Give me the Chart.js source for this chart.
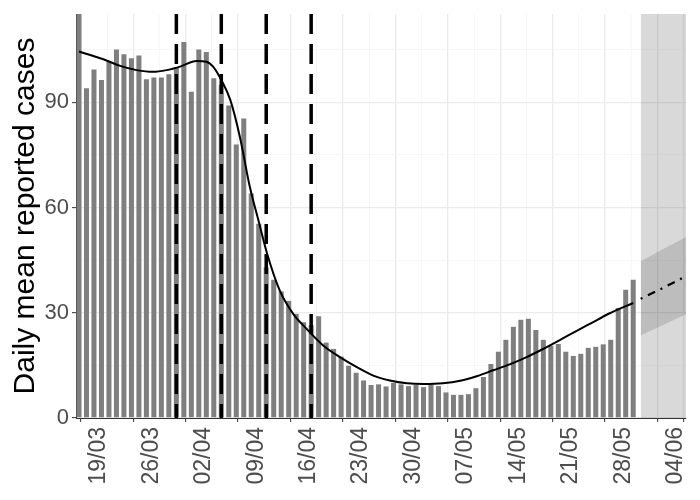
<!DOCTYPE html>
<html>
<head>
<meta charset="utf-8">
<script src="https://cdn.jsdelivr.net/npm/chart.js@4.4.1/dist/chart.umd.min.js"></script>
<style>
  body { margin: 0; background: #fff; }
</style>
</head>
<body>
<canvas id="casesChart" width="700" height="500"></canvas>
<script>
// day numbers are counted from 19/03
const firstBarDay = -2; // 17/03
const dailyCases = [
  120, 94.0, 99.4, 96.4, 101.5, 105.1, 103.7, 102.6, 103.4, 96.6,
  97.1, 97.1, 98.0, 100, 107.2, 93.0, 105.1, 104.4, 96.9, 95,
  89.1, 78.0, 85.4, 64.0, 55.4, 43, 39.4, 36.1, 33.4, 29.7,
  27.3, 26.5, 29.0, 21.5, 19.7, 17.5, 14.9, 12.9, 10.7, 9.4,
  9.6, 9.0, 10.0, 9.6, 9.1, 9.4, 8.8, 9.5, 9.1, 7.3,
  6.6, 6.6, 6.8, 8.5, 11.7, 15.4, 18.9, 22.3, 26.0, 28.0,
  28.3, 25.1, 22.3, 20.6, 21.1, 18.9, 17.7, 18.3, 20.0, 20.3,
  21.0, 22.3, 31.4, 36.6, 39.4
];

const tickDays = [0, 7, 14, 21, 28, 35, 42, 49, 56, 63, 70, 77];
const tickLabels = ['19/03', '26/03', '02/04', '09/04', '16/04', '23/04', '30/04', '07/05', '14/05', '21/05', '28/05', '04/06'];
const yMajor = [0, 30, 60, 90];
const yMinor = [15, 45, 75, 105];

const interventionDays = [11, 17, 23, 29];

// fitted curve
const fitDays = [-2, -0.5, 1.25, 3.5, 5.7, 7.9, 9.7, 11.5, 13.7, 15.0, 15.9, 17.0, 18.2, 19.5, 20.8, 22, 23.1, 24.8, 26.6, 28.4, 30.6, 32.9, 35.1, 37.3, 39.5, 41.8, 44, 46.6, 48.9, 51.1, 53.3, 55.5, 57.7, 59.9, 62.2, 64.4, 66.6, 68.8, 72];
const fitValues = [104.5, 103.5, 102.3, 100.4, 99.2, 98.7, 99.2, 100.2, 101.8, 101.6, 100.2, 96.4, 90.7, 80, 66, 56, 47, 36.4, 29.7, 25.4, 20.7, 17.3, 14.5, 12.1, 10.7, 9.9, 9.7, 9.9, 10.6, 11.9, 13.6, 15.3, 17.3, 19.6, 22.2, 24.8, 27.3, 29.8, 32.8];

// projection
const forecastDays = [73, 76, 79.1];
const forecastMean = [34.0, 37.1, 40.5];
const forecastUpper = [44.7, 48.2, 51.7];
const forecastLower = [23.5, 26.5, 29.6];

const xMin = -2.4, xMax = 79.05, yMax = 115.2;

const xMinor = tickDays.map(d => d + 3.5).filter(d => d < xMax);

const pts = (xs, ys) => xs.map((x, i) => ({ x: x, y: ys[i] }));

const lineBase = { type: 'line', pointRadius: 0, fill: false, clip: 0 };

const vlines = interventionDays.map(d => Object.assign({}, lineBase, {
  data: [{ x: d, y: yMax }, { x: d, y: 0 }],
  borderColor: '#000',
  borderWidth: 3.5,
  borderDash: [20, 10],
  order: 0
}));

// major / minor helpers for scriptable grid options
const isMajor = (list) => (ctx) => !ctx.tick || list.includes(ctx.tick.value);

const gridFor = (list) => ({
  color: (ctx) => isMajor(list)(ctx) ? '#EBEBEB' : '#F5F5F5',
  lineWidth: (ctx) => isMajor(list)(ctx) ? 1.3 : 0.8,
  tickColor: (ctx) => isMajor(list)(ctx) ? '#333333' : 'rgba(0,0,0,0)',
  tickWidth: 1,
  tickLength: 4
});

Chart.defaults.font.family = "'Liberation Sans', Arial, sans-serif";

new Chart(document.getElementById('casesChart'), {
  type: 'bar',
  data: {
    datasets: [
      ...vlines,
      Object.assign({}, lineBase, {
        data: pts(fitDays, fitValues),
        borderColor: '#000',
        borderWidth: 2,
        cubicInterpolationMode: 'monotone',
        order: 1
      }),
      Object.assign({}, lineBase, {
        data: pts(forecastDays, forecastMean),
        borderColor: '#000',
        borderWidth: 2.2,
        borderDash: [2, 6, 8, 6],
        order: 1
      }),
      {
        type: 'bar',
        data: dailyCases.map((v, i) => ({ x: firstBarDay + i, y: v })),
        backgroundColor: '#7F7F7F',
        borderWidth: 0,
        barPercentage: 0.67,
        categoryPercentage: 1,
        clip: 0,
        order: 3
      },
      Object.assign({}, lineBase, {
        data: pts(forecastDays, forecastUpper),
        borderWidth: 0,
        borderColor: 'rgba(0,0,0,0)',
        backgroundColor: 'rgba(0,0,0,0.13)',
        fill: '+1',
        order: 4
      }),
      Object.assign({}, lineBase, {
        data: pts(forecastDays, forecastLower),
        borderWidth: 0,
        borderColor: 'rgba(0,0,0,0)',
        order: 4
      }),
      Object.assign({}, lineBase, {
        data: [{ x: forecastDays[0], y: yMax }, { x: forecastDays[forecastDays.length - 1], y: yMax }],
        borderWidth: 0,
        borderColor: 'rgba(0,0,0,0)',
        backgroundColor: 'rgba(0,0,0,0.15)',
        fill: 'start',
        order: 5
      })
    ]
  },
  options: {
    responsive: false,
    animation: false,
    devicePixelRatio: 1,
    events: [],
    layout: { padding: { top: 14, right: 14, left: 0, bottom: 0 } },
    plugins: {
      legend: { display: false },
      tooltip: { enabled: false }
    },
    scales: {
      x: {
        type: 'linear',
        min: xMin,
        max: xMax,
        offset: false,
        afterBuildTicks: (scale) => {
          scale.ticks = tickDays.concat(xMinor).sort((a, b) => a - b).map(v => ({ value: v }));
        },
        afterFit: (scale) => {
          scale.height = 82;
          scale.paddingLeft = 0;
          scale.paddingRight = 0;
        },
        ticks: {
          autoSkip: false,
          minRotation: 90,
          maxRotation: 90,
          padding: 5,
          labelOffset: 5,
          color: '#4D4D4D',
          font: { size: 23 },
          callback: (value) => {
            const i = tickDays.indexOf(value);
            return i >= 0 ? tickLabels[i] : '';
          }
        },
        grid: gridFor(tickDays),
        border: { display: true, color: '#333333', width: 1 }
      },
      y: {
        type: 'linear',
        min: 0,
        max: yMax,
        afterBuildTicks: (scale) => {
          scale.ticks = yMajor.concat(yMinor).sort((a, b) => a - b).map(v => ({ value: v }));
        },
        afterFit: (scale) => {
          scale.width = 76;
          scale.paddingTop = 0;
          scale.paddingBottom = 0;
        },
        ticks: {
          padding: 3,
          color: '#4D4D4D',
          font: { size: 22 },
          callback: (value) => yMajor.includes(value) ? String(value) : ''
        },
        grid: gridFor(yMajor),
        border: { display: true, color: '#333333', width: 1 },
        title: {
          display: true,
          text: 'Daily mean reported cases',
          color: '#000',
          font: { size: 30 },
          padding: { top: 8, bottom: 0 }
        }
      }
    }
  }
});
</script>
</body>
</html>
